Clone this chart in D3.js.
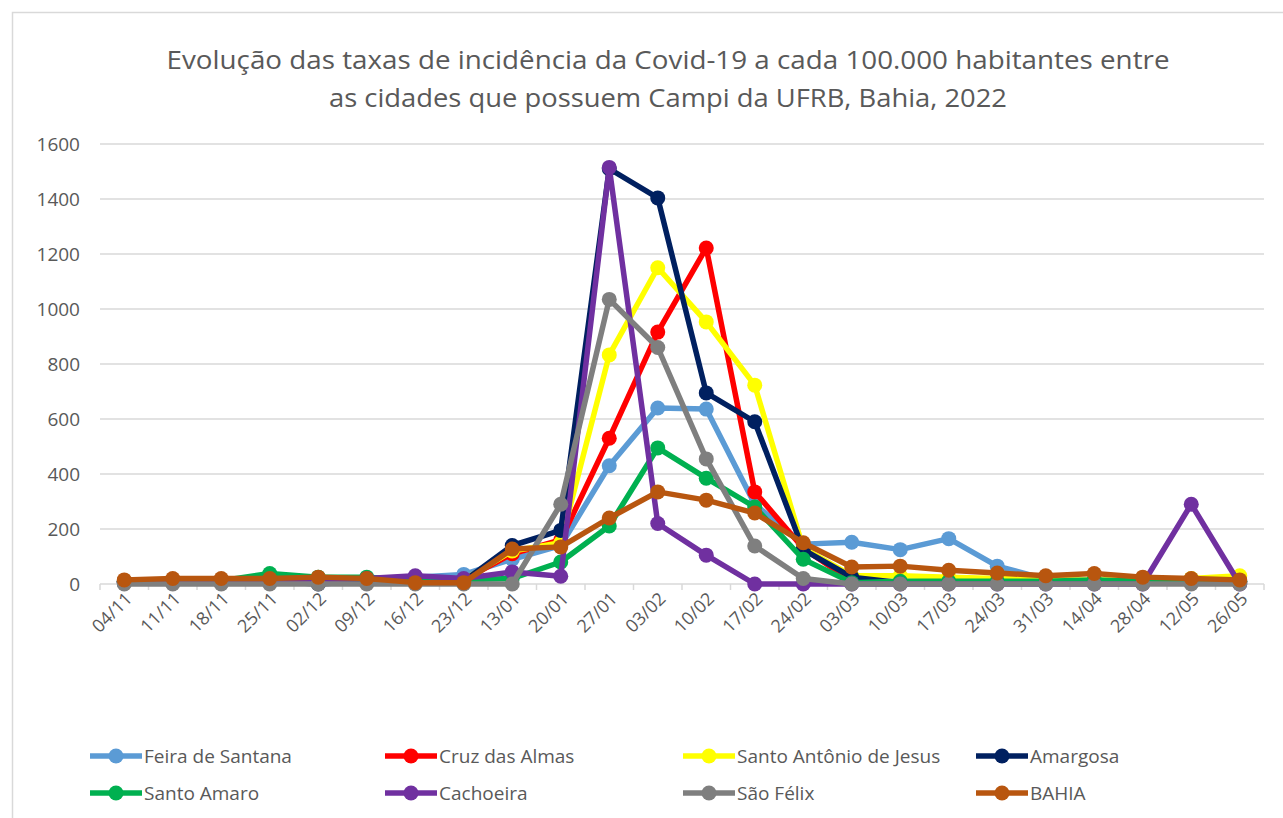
<!DOCTYPE html>
<html lang="pt">
<head>
<meta charset="utf-8">
<script src="https://cdn.jsdelivr.net/npm/d3@7"></script>
<style>
    html, body { margin: 0; padding: 0; background: #ffffff; }
    #chart { width: 1283px; height: 818px; }
    text { font-family: "Open Sans", "Noto Sans", sans-serif; fill: #595959; }
</style>
</head>
<body>
<div id="chart"></div>
<script>
const titleLines = [
    "Evolução das taxas de incidência da Covid-19 a cada 100.000 habitantes entre",
    "as cidades que possuem Campi da UFRB, Bahia, 2022"
];

const weeks = ["04/11", "11/11", "18/11", "25/11", "02/12", "09/12", "16/12", "23/12",
    "13/01", "20/01", "27/01", "03/02", "10/02", "17/02", "24/02", "03/03",
    "10/03", "17/03", "24/03", "31/03", "14/04", "28/04", "12/05", "26/05"];

const yTicks = [0, 200, 400, 600, 800, 1000, 1200, 1400, 1600];

const seriesNames = ["Feira de Santana", "Cruz das Almas", "Santo Antônio de Jesus", "Amargosa",
    "Santo Amaro", "Cachoeira", "São Félix", "BAHIA"];

const seriesColors = ["#5B9BD5", "#FF0000", "#FFFF00", "#002060",
    "#00B050", "#7030A0", "#7F7F7F", "#B8560F"];

const feiraDeSantana = [5, 8, 10, 15, 15, 15, 25, 35, 90, 140, 430, 640, 636, 290, 145, 152, 125, 165, 65, 18, 12, 10, 10, 10];
const cruzDasAlmas = [8, 10, 10, 15, 15, 15, 15, 15, 110, 160, 530, 916, 1222, 335, 130, 10, 8, 8, 8, 8, 8, 8, 8, 8];
const santoAntonio = [10, 12, 12, 15, 15, 15, 15, 15, 120, 150, 833, 1150, 953, 723, 130, 30, 30, 25, 20, 15, 15, 15, 20, 30];
const amargosa = [5, 5, 5, 10, 0, 10, 10, 10, 140, 195, 1510, 1404, 695, 590, 125, 25, 5, 5, 5, 5, 5, 5, 5, 5];
const santoAmaro = [10, 12, 12, 38, 25, 25, 15, 15, 20, 80, 211, 495, 385, 280, 90, 5, 10, 10, 10, 10, 15, 10, 10, 10];
const cachoeira = [10, 12, 12, 15, 15, 20, 30, 20, 44, 28, 1515, 220, 105, 0, 0, 0, 0, 0, 0, 0, 0, 0, 290, 0];
const saoFelix = [0, 0, 0, 0, 0, 0, 0, 0, 0, 290, 1035, 860, 455, 138, 20, 0, 0, 0, 0, 0, 0, 0, 0, 0];
const bahia = [15, 20, 20, 20, 25, 20, 5, 5, 127, 135, 240, 335, 305, 258, 150, 62, 65, 50, 40, 30, 38, 25, 20, 15];

const seriesValues = [feiraDeSantana, cruzDasAlmas, santoAntonio, amargosa,
    santoAmaro, cachoeira, saoFelix, bahia];

document.addEventListener("DOMContentLoaded", () => {
    renderChart();
});

function renderChart() {
    const width = 1283;
    const height = 818;
    const plot = { left: 100, right: 1264, top: 144, bottom: 584 };

    const svg = d3.select("#chart").append("svg")
        .attr("width", width)
        .attr("height", height)
        .attr("viewBox", [0, 0, width, height]);

    // chart area frame (only left/top edges visible in the capture)
    svg.append("rect")
        .attr("x", 12.5)
        .attr("y", 12.5)
        .attr("width", width + 20)
        .attr("height", height + 20)
        .attr("fill", "#ffffff")
        .attr("stroke", "#D9D9D9")
        .attr("stroke-width", 1.5);

    svg.append("g")
        .selectAll("text")
        .data(titleLines)
        .join("text")
        .attr("x", 668)
        .attr("y", (d, i) => 69 + i * 38)
        .attr("text-anchor", "middle")
        .attr("font-size", 26)
        .attr("textLength", (d, i) => i === 0 ? 1003 : 678)
        .attr("lengthAdjust", "spacingAndGlyphs")
        .text((d) => d);

    const xScale = d3.scalePoint()
        .domain(weeks)
        .range([plot.left, plot.right])
        .padding(0.5);

    const yScale = d3.scaleLinear()
        .domain([0, 1600])
        .range([plot.bottom, plot.top]);

    // horizontal gridlines
    svg.append("g")
        .selectAll("line")
        .data(yTicks.filter((d) => d > 0))
        .join("line")
        .attr("x1", plot.left)
        .attr("x2", plot.right)
        .attr("y1", (d) => yScale(d))
        .attr("y2", (d) => yScale(d))
        .attr("stroke", "#D9D9D9")
        .attr("stroke-width", 1.5);

    // y axis labels
    const yAxis = svg.append("g")
        .attr("transform", `translate(${plot.left}, 0)`)
        .call(d3.axisLeft(yScale).tickValues(yTicks).tickFormat(d3.format("d")).tickSize(0).tickPadding(20));
    yAxis.select(".domain").remove();
    yAxis.selectAll("text")
        .attr("font-size", 19)
        .attr("font-family", "\"Open Sans\", sans-serif")
        .attr("fill", "#595959");

    // category axis with tick marks between categories
    const step = xScale.step();
    const boundaries = d3.range(weeks.length + 1).map((i) => plot.left + i * step);

    const xAxis = svg.append("g");
    xAxis.append("line")
        .attr("x1", plot.left)
        .attr("x2", plot.right)
        .attr("y1", plot.bottom)
        .attr("y2", plot.bottom)
        .attr("stroke", "#D9D9D9")
        .attr("stroke-width", 1.5);
    xAxis.selectAll(".xtick")
        .data(boundaries)
        .join("line")
        .attr("class", "xtick")
        .attr("x1", (d) => d)
        .attr("x2", (d) => d)
        .attr("y1", plot.bottom)
        .attr("y2", plot.bottom + 6)
        .attr("stroke", "#D9D9D9")
        .attr("stroke-width", 1.5);
    xAxis.selectAll(".xlabel")
        .data(weeks)
        .join("text")
        .attr("class", "xlabel")
        .attr("text-anchor", "end")
        .attr("font-size", 18)
        .attr("transform", (d) => `translate(${xScale(d) + 9}, ${plot.bottom + 16}) rotate(-45)`)
        .text((d) => d);

    const line = d3.line()
        .x((d, i) => xScale(weeks[i]))
        .y((d) => yScale(d));

    const series = seriesNames.map((name, i) => ({
        name,
        color: seriesColors[i],
        values: seriesValues[i]
    }));

    const seriesGroups = svg.append("g")
        .selectAll("g")
        .data(series)
        .join("g");

    seriesGroups.append("path")
        .attr("fill", "none")
        .attr("stroke", (d) => d.color)
        .attr("stroke-width", 5.5)
        .attr("stroke-linejoin", "round")
        .attr("d", (d) => line(d.values));

    seriesGroups.selectAll("circle")
        .data((d) => d.values.map((v, i) => ({ week: weeks[i], value: v, color: d.color })))
        .join("circle")
        .attr("cx", (d) => xScale(d.week))
        .attr("cy", (d) => yScale(d.value))
        .attr("r", 7.5)
        .attr("fill", (d) => d.color);

    // legend, 4 columns x 2 rows
    const legendCols = [90, 385, 683, 976];
    const legendRows = [756, 793];
    const legendItems = svg.append("g")
        .selectAll("g")
        .data(series)
        .join("g")
        .attr("transform", (d, i) => `translate(${legendCols[i % 4]}, ${legendRows[Math.floor(i / 4)]})`);

    legendItems.append("line")
        .attr("x1", 0)
        .attr("x2", 52)
        .attr("stroke", (d) => d.color)
        .attr("stroke-width", 5.5);

    legendItems.append("circle")
        .attr("cx", 26)
        .attr("r", 7.5)
        .attr("fill", (d) => d.color);

    legendItems.append("text")
        .attr("x", 54)
        .attr("dominant-baseline", "central")
        .attr("font-size", 19)
        .text((d) => d.name);
}
</script>
</body>
</html>
